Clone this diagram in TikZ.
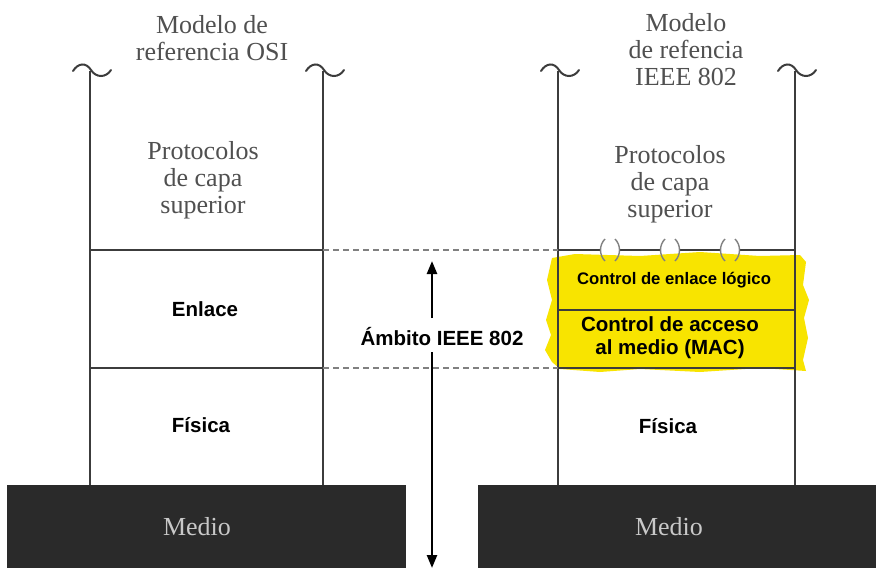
\documentclass[tikz,border=0pt]{standalone}
\usepackage{fontspec}
\setmainfont{Liberation Serif}
\newfontfamily\sansf{Liberation Sans}
\usetikzlibrary{arrows.meta}
\definecolor{lyel}{RGB}{248,228,0}
\definecolor{ltext}{RGB}{80,80,80}
\definecolor{lline}{RGB}{60,60,60}
\definecolor{medbg}{RGB}{42,42,42}
\definecolor{medtx}{RGB}{200,200,200}
\tikzset{
  serif/.style={font=\fontsize{26}{27}\selectfont, text=ltext, align=center, inner sep=0pt},
  boldlab/.style={font=\sansf\bfseries\fontsize{20.5}{22}\selectfont, text=black, align=center, inner sep=0pt},
  stackline/.style={draw=lline, line width=2.2pt},
  dashline/.style={draw=gray, line width=1.4pt, dash pattern=on 6pt off 4pt},
  paren/.style={draw=gray, line width=1.4pt},
  medbox/.style={fill=medbg, draw=medbg},
  tildestyle/.style={draw=lline, line width=2pt, line cap=round}
}
\begin{document}
\begin{tikzpicture}[x=1pt,y=-1pt]
\useasboundingbox (0,0) rectangle (881,573);
\fill[white] (0,0) rectangle (881,573);

% yellow highlight
\fill[lyel] (552,258) -- (575,254) -- (640,256) -- (700,252) -- (760,256) -- (800,255) -- (806,262)
  -- (803,285) -- (809,300) -- (804,318) -- (808,338) -- (803,360) -- (806,371) -- (760,368) -- (700,372)
  -- (640,369) -- (600,372) -- (560,369) -- (552,362) -- (545,350) -- (551,335) -- (546,320) -- (552,300)
  -- (547,280) -- cycle;

% medium boxes
\path[medbox] (7,485) rectangle (405,567);
\path[medbox] (478,485) rectangle (875,567);
\node[serif, text=medtx] (medio1) at (197,527) {Medio};
\node[serif, text=medtx] (medio2) at (669,527) {Medio};

% vertical stack lines with tildes
\foreach \xx/\nm in {90/a,323/b,558/c,795/d}{
  \coordinate (top\nm) at (\xx,71);
  \coordinate (bot\nm) at (\xx,485);
  \draw[stackline] (top\nm) -- (bot\nm);
  \draw[tildestyle] (\xx-17,71) .. controls (\xx-12,63) and (\xx-4,62) .. (\xx+1,70)
     .. controls (\xx+6,78) and (\xx+16,78) .. (\xx+21,70);
}

% horizontal lines left
\draw[stackline] (90,250) -- (323,250);
\draw[stackline] (90,368) -- (323,368);
% dashed connections
\draw[dashline] (323,250) -- (558,250);
\draw[dashline] (323,368) -- (558,368);
% right lines
\draw[stackline] (558,250) -- (601,250);
\draw[stackline] (619,250) -- (661,250);
\draw[stackline] (679,250) -- (721,250);
\draw[stackline] (739,250) -- (795,250);
\foreach \cx in {610,670,730}{
  \draw[paren] (\cx-5,239) .. controls (\cx-11,245) and (\cx-11,255) .. (\cx-5,261);
  \draw[paren] (\cx+5,239) .. controls (\cx+11,245) and (\cx+11,255) .. (\cx+5,261);
}
\draw[stackline] (558,310) -- (795,310);
\draw[stackline] (558,368) -- (795,368);

% titles
\node[serif] (osi) at (212,38) {Modelo de\\referencia OSI};
\node[serif] (ieee) at (686,50) {Modelo\\de refencia\\IEEE 802};
\node[serif] (proto1) at (203,180) {Protocolos\\de capa\\superior};
\node[serif] (proto2) at (670,184) {Protocolos\\de capa\\superior};

% layer labels
\node[boldlab] (enlace) at (205,309) {Enlace};
\node[boldlab] (fis1) at (201,425) {Física};
\node[boldlab] (fis2) at (668,426) {Física};
\node[boldlab, font=\sansf\bfseries\fontsize{16.7}{18}\selectfont] (llc) at (674,280) {Control de enlace lógico};
\node[boldlab, font=\sansf\bfseries\fontsize{20.5}{23}\selectfont] (mac) at (670,338) {Control de acceso\\al medio (MAC)};

% scope arrow
\node[boldlab] (ambito) at (442,337) {Ámbito IEEE 802};
\coordinate (arrtop) at (432,261);
\coordinate (arrbot) at (432,568);
\draw[line width=2.4pt, -{Triangle[length=13pt,width=10pt]}] (432,318) -- (arrtop);
\draw[line width=2.4pt, -{Triangle[length=13pt,width=10pt]}] (432,352) -- (arrbot);
\end{tikzpicture}
\end{document}
